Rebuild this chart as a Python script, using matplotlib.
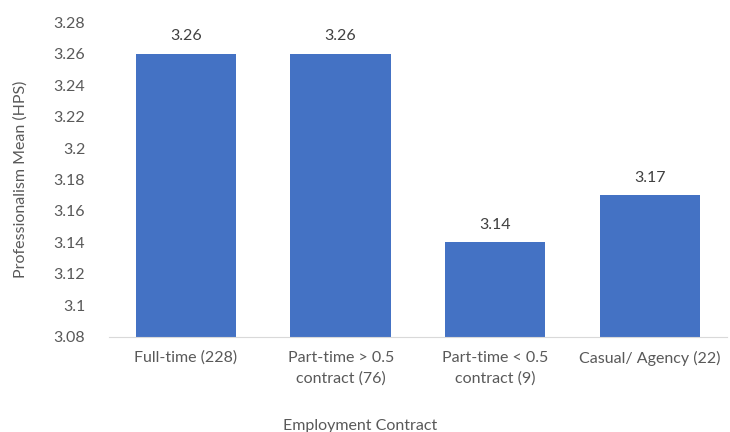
import matplotlib.pyplot as plt

categories = ['Full-time (228)', 'Part-time > 0.5\ncontract (76)',
              'Part-time < 0.5\ncontract (9)', 'Casual/ Agency (22)']
means = [3.26, 3.26, 3.14, 3.17]
yticks = [3.08, 3.1, 3.12, 3.14, 3.16, 3.18, 3.2, 3.22, 3.24, 3.26, 3.28]

plt.rcParams['font.family'] = ['Lato', 'DejaVu Sans']
grey = '#595959'

fig = plt.figure(figsize=(7.3, 4.32), dpi=100)
ax = fig.add_axes([0.149, 0.22, 0.847, 0.729])

x = range(len(categories))
bars = ax.bar(x, means, width=0.65, color='#4472C4', zorder=2)
for b, v in zip(bars, means):
    ax.text(b.get_x() + b.get_width() / 2, v + 0.0065, '%.2f' % v,
            ha='center', va='bottom', fontsize=11.5, color='#404040')

ax.set_ylim(3.08, 3.28)
ax.set_xlim(-0.5, len(categories) - 0.5)
ax.set_yticks(yticks)
ax.set_yticklabels(['%g' % t for t in yticks])
ax.set_xticks(list(x))
ax.set_xticklabels(categories, linespacing=1.55)
ax.tick_params(axis='both', length=0, labelsize=11.5, colors=grey)
ax.tick_params(axis='y', pad=17)
ax.tick_params(axis='x', pad=10)

for s in ['top', 'right', 'left']:
    ax.spines[s].set_visible(False)
ax.spines['bottom'].set_color('#D9D9D9')

fig.text(0.028, 0.585, 'Professionalism Mean (HPS)', rotation=90,
         ha='center', va='center', fontsize=11.5, color=grey)
fig.text(0.493, 0.015, 'Employment Contract', ha='center', va='center',
         fontsize=11.5, color=grey)

fig.savefig('out.png', dpi=100)
